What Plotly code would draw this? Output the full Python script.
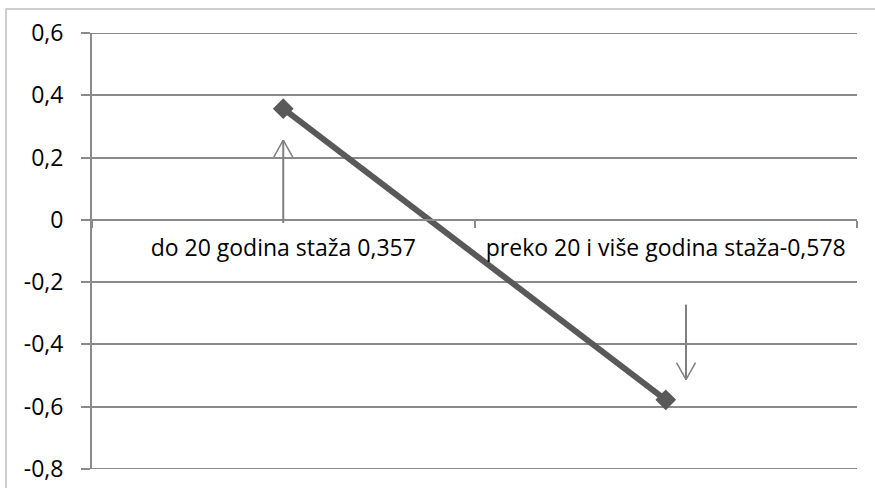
import plotly.graph_objects as go

categories = ["do 20 godina staža 0,357", "preko 20 i više godina staža-0,578"]
values = [0.357, -0.578]
y_ticks = [0.6, 0.4, 0.2, 0, -0.2, -0.4, -0.6, -0.8]
y_tick_labels = ["0,6", "0,4", "0,2", "0", "-0,2", "-0,4", "-0,6", "-0,8"]

W, H = 875, 488
ML, MR, MT, MB = 92, 18, 33, 19
YMIN, YMAX = -0.8, 0.6

GRID = "#8a8a8a"
LINE = "#595959"
ARROW = "#7f7f7f"
FONT = "Open Sans"
FS = 23

fig = go.Figure()
fig.add_trace(go.Scatter(
    x=[0, 1], y=values, mode="lines+markers",
    line=dict(color=LINE, width=6),
    marker=dict(symbol="diamond", size=16, color=LINE),
    showlegend=False, hoverinfo="skip", cliponaxis=False,
))

pw = W - ML - MR
ph = H - MT - MB
zero_pos = (0 - YMIN) / (YMAX - YMIN)

fig.update_layout(
    width=W, height=H,
    margin=dict(l=ML, r=MR, t=MT, b=MB, autoexpand=False),
    paper_bgcolor="white", plot_bgcolor="white",
    font=dict(family=FONT, size=FS, color="#000000"),
    xaxis=dict(
        type="category", range=[-0.5, 1.5],
        tickmode="array", tickvals=[0, 1], ticktext=categories,
        tickson="boundaries", ticks="outside", ticklen=7, tickwidth=2, tickcolor=GRID,
        showline=True, linecolor=GRID, linewidth=2,
        showgrid=False, zeroline=False,
        anchor="free", position=zero_pos,
        tickfont=dict(family=FONT, size=FS, color="#000000"),
        ticklabelstandoff=8,
    ),
    yaxis=dict(
        range=[YMIN, YMAX], tickmode="array", tickvals=y_ticks, ticktext=y_tick_labels,
        ticks="outside", ticklen=9, tickwidth=2, tickcolor=GRID,
        showline=True, linecolor=GRID, linewidth=2,
        showgrid=True, gridcolor=GRID, gridwidth=2,
        zeroline=False,
        tickfont=dict(family=FONT, size=FS, color="#000000"),
        ticklabelstandoff=13,
    ),
)

# gridlines at range edges (plotly hides them)
for yv in (YMAX, YMIN):
    fig.add_shape(type="line", xref="paper", yref="y", x0=0, x1=1, y0=yv, y1=yv,
                  line=dict(color=GRID, width=2), layer="below")

# outer chart frame
fig.add_shape(type="rect", xref="paper", yref="paper",
              x0=(6 - ML) / pw, x1=(W + 10 - ML) / pw,
              y0=-(MB + 10) / ph, y1=1 + (MT - 9) / ph,
              line=dict(color="#c0c0c0", width=1.5), fillcolor="rgba(0,0,0,0)", layer="below")

# arrows (decorations)
px_per_cat = pw / 2.0
px_per_val = ph / (YMAX - YMIN)
hw = 9.5 / px_per_cat
hh = 17 / px_per_val

def arrow(x, y_from, y_to):
    fig.add_shape(type="line", xref="x", yref="y", x0=x, x1=x, y0=y_from, y1=y_to,
                  line=dict(color=ARROW, width=2))
    d = 1 if y_to > y_from else -1
    for s in (-1, 1):
        fig.add_shape(type="line", xref="x", yref="y", x0=x, x1=x + s * hw,
                      y0=y_to, y1=y_to - d * hh, line=dict(color=ARROW, width=1.5))

arrow(0.0, -0.01, 0.256)
arrow(1.053, -0.272, -0.513)

fig.write_html("out.html", config={"displayModeBar": False},
               post_script="document.body.style.margin='0';")
